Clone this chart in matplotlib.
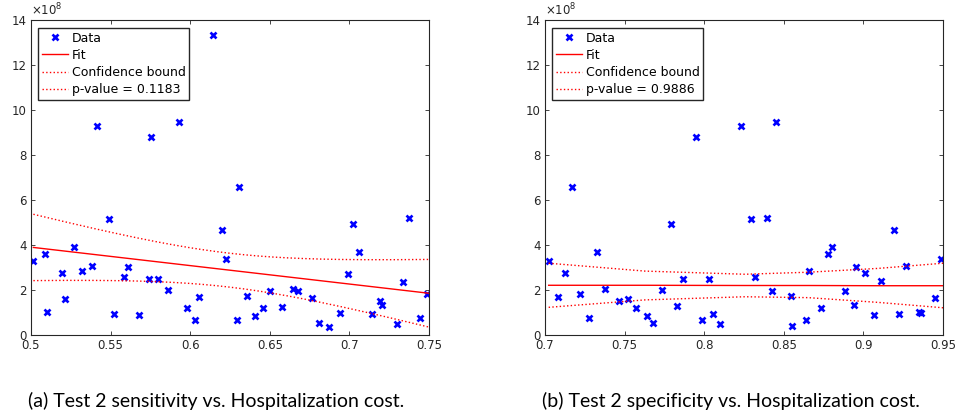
import numpy as np
import matplotlib
matplotlib.use("Agg")
import matplotlib.pyplot as plt

# ---------------------------------------------------------------------------
# Data (cost in units of 1e8)
# ---------------------------------------------------------------------------
sens_x = [0.5015, 0.5086, 0.5103, 0.5193, 0.5214, 0.5272, 0.5322, 0.5385,
          0.5413, 0.5492, 0.5519, 0.5586, 0.5611, 0.5676, 0.5743, 0.5756,
          0.5800, 0.5863, 0.5932, 0.5978, 0.6030, 0.6057, 0.6145, 0.6198,
          0.6225, 0.6296, 0.6307, 0.6355, 0.6409, 0.6459, 0.6501, 0.6579,
          0.6644, 0.6677, 0.6765, 0.6811, 0.6874, 0.6941, 0.6993, 0.7025,
          0.7060, 0.7142, 0.7194, 0.7207, 0.7299, 0.7337, 0.7374, 0.7445,
          0.7489]
sens_cost = [3.27, 3.59, 1.02, 2.74, 1.59, 3.91, 2.86, 3.05,
             9.29, 5.16, 0.92, 2.58, 3.01, 0.89, 2.48, 8.80,
             2.48, 2.00, 9.47, 1.20, 0.67, 1.70, 13.32, 4.67,
             3.36, 0.68, 6.56, 1.73, 0.84, 1.18, 1.97, 1.26,
             2.04, 1.96, 1.64, 0.55, 0.37, 0.96, 2.73, 4.95,
             3.67, 0.93, 1.50, 1.32, 0.49, 2.37, 5.18, 0.74,
             1.81]

spec_x = [0.7023, 0.7084, 0.7128, 0.7170, 0.7220, 0.7276, 0.7325, 0.7377,
          0.7467, 0.7519, 0.7570, 0.7639, 0.7678, 0.7735, 0.7789, 0.7827,
          0.7865, 0.7946, 0.7988, 0.8028, 0.8055, 0.8101, 0.8233, 0.8296,
          0.8321, 0.8393, 0.8428, 0.8453, 0.8543, 0.8551, 0.8639, 0.8656,
          0.8734, 0.8778, 0.8803, 0.8884, 0.8939, 0.8955, 0.9012, 0.9065,
          0.9111, 0.9192, 0.9224, 0.9268, 0.9347, 0.9364, 0.9448, 0.9490]
spec_cost = [3.27, 1.70, 2.74, 6.56, 1.81, 0.74, 3.67, 2.04,
             1.51, 1.60, 1.20, 0.84, 0.55, 2.00, 4.95, 1.27,
             2.48, 8.80, 0.67, 2.49, 0.93, 0.49, 9.29, 5.16,
             2.56, 5.20, 1.96, 9.47, 1.73, 0.39, 0.67, 2.86,
             1.18, 3.59, 3.91, 1.96, 1.32, 3.01, 2.74, 0.89,
             2.38, 4.67, 0.93, 3.05, 1.02, 0.96, 1.64, 3.36]

# the specificity fit was made on a larger sample than the visible window,
# so its line and bounds are read straight off the figure
spec_band_x = [0.7023, 0.7628, 0.8256, 0.8654, 0.9092, 0.9500]
spec_fit = [2.21, 2.21, 2.20, 2.20, 2.19, 2.19]
spec_upper = [3.19, 2.84, 2.70, 2.79, 2.96, 3.19]
spec_lower = [1.23, 1.56, 1.70, 1.66, 1.45, 1.21]

p_values = ["0.1183", "0.9886"]
xlims = [(0.5, 0.75), (0.7, 0.95)]
xticks = [[0.5, 0.55, 0.6, 0.65, 0.7, 0.75], [0.7, 0.75, 0.8, 0.85, 0.9, 0.95]]
captions = ["(a) Test 2 sensitivity vs. Hospitalization cost.",
            "(b) Test 2 specificity vs. Hospitalization cost."]
T_CRIT = 2.01  # ~95% two-sided, df ~ 47

INK = "#262626"
plt.rcParams.update({
    "font.family": "DejaVu Sans",
    "font.size": 8.5,
    "axes.edgecolor": INK,
    "xtick.color": INK,
    "ytick.color": INK,
    "xtick.direction": "in",
    "ytick.direction": "in",
})


def fit_with_bounds(x, y, xmax):
    x = np.asarray(x); y = np.asarray(y)
    slope, icpt = np.polyfit(x, y, 1)
    resid = y - (slope * x + icpt)
    n = len(x)
    s = np.sqrt((resid ** 2).sum() / (n - 2))
    sxx = ((x - x.mean()) ** 2).sum()
    xs = np.linspace(x.min(), xmax, 200)
    yhat = slope * xs + icpt
    half = T_CRIT * s * np.sqrt(1.0 / n + (xs - x.mean()) ** 2 / sxx)
    return xs, yhat, yhat - half, yhat + half


fig = plt.figure(figsize=(9.56, 4.16), dpi=100)
lefts = [31 / 956, 545 / 956]
cap_centers = [216 / 956, 731 / 956]
datasets = [(sens_x, sens_cost), (spec_x, spec_cost)]

for i, (x, y) in enumerate(datasets):
    ax = fig.add_axes([lefts[i], 81 / 416, 398 / 956, 315 / 416])
    if i == 0:
        xs, yhat, lo, hi = fit_with_bounds(x, y, xlims[i][1])
    else:
        xs, yhat, lo, hi = spec_band_x, spec_fit, spec_lower, spec_upper
    ax.plot(x, y, linestyle="none", marker="x", color="blue",
            markersize=4.2, markeredgewidth=1.9, label="Data")
    ax.plot(xs, yhat, color="red", linewidth=1, label="Fit")
    ax.plot(xs, lo, color="red", linestyle=":", linewidth=1,
            label="Confidence bound")
    ax.plot(xs, hi, color="red", linestyle=":", linewidth=1,
            label="p-value = " + p_values[i])
    ax.set_xlim(*xlims[i])
    ax.set_ylim(0, 14)
    ax.set_xticks(xticks[i])
    ax.set_xticklabels([f"{t:g}" for t in xticks[i]])
    ax.set_yticks(range(0, 15, 2))
    ax.tick_params(top=True, right=True, length=3, width=0.6, pad=3)
    for sp in ax.spines.values():
        sp.set_linewidth(0.8)
    ax.text(0, 1.005, r"$\times10^{8}$", transform=ax.transAxes,
            ha="left", va="bottom", color=INK, fontsize=8.5)
    ax.legend(loc="upper left", bbox_to_anchor=(0.017, 0.975),
              frameon=True, fancybox=False, edgecolor=INK, framealpha=1,
              borderpad=0.3, labelspacing=0.33, handlelength=2.1,
              handletextpad=0.3, borderaxespad=0.0, numpoints=1, fontsize=9)
    fig.text(cap_centers[i], 1 - 401 / 416, captions[i], ha="center",
             va="center", fontsize=14, family="Lato", color="black")

fig.savefig("out.png", dpi=100)
